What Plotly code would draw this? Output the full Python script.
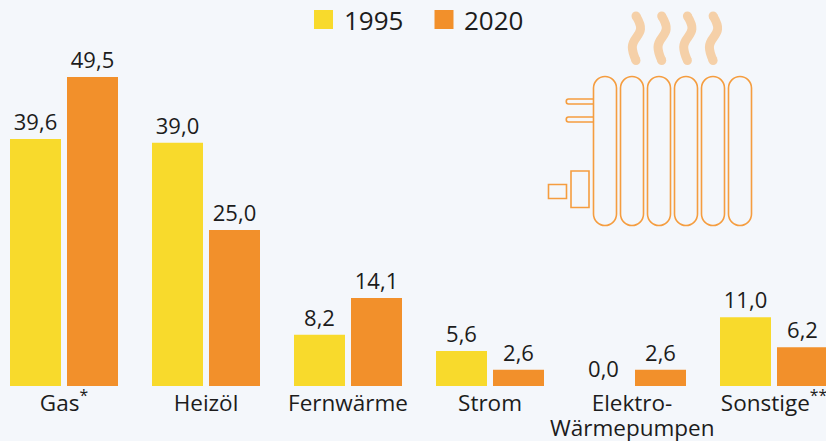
import plotly.graph_objects as go

categories = ["Gas<sup>*</sup>", "Heizöl", "Fernwärme", "Strom", "Elektro-", "Sonstige<sup>**</sup>"]
category_second_line = "Wärmepumpen"
series_names = ["1995", "2020"]
values_1995 = [39.6, 39.0, 8.2, 5.6, 0.0, 11.0]
values_2020 = [49.5, 25.0, 14.1, 2.6, 2.6, 6.2]

W, H = 826, 441
BASE = 386
YELLOW, ORANGE = "#f8da2c", "#f2902b"
BG = "#f4f7fb"
INK = "#1c1c1c"
FONT = "Open Sans"

def de(v):
    return f"{v:.1f}".replace(".", ",")

px = lambda x: x / W
py = lambda y: (BASE - y) / BASE

def path(cmds):
    out = []
    for c in cmds:
        if isinstance(c, str):
            out.append(c)
        else:
            out.append(f"{px(c[0]):.5f},{py(c[1]):.5f}")
    return " ".join(out)

positions = list(range(len(categories)))
fig = go.Figure()
for name, vals, col in [(series_names[0], values_1995, YELLOW), (series_names[1], values_2020, ORANGE)]:
    fig.add_trace(go.Bar(
        x=positions, y=vals, name=name, marker=dict(color=col, line=dict(width=0)),
        text=[de(v) for v in vals], textposition="outside", cliponaxis=False,
        textfont=dict(family=FONT, size=22, color=INK), showlegend=False,
        constraintext="none",
    ))

shapes = []
LINE = dict(color="#f59d3f", width=1.6)
# radiator columns
for i in range(6):
    x0 = 593.5 + i * 27
    x1 = x0 + 23
    r = 11.5
    y0, y1 = 76.5, 225.5
    k = 0.55 * r
    d = path(["M", (x0, y0 + r), "C", (x0, y0 + r - k), (x0 + r - k, y0), (x0 + r, y0),
              "C", (x1 - r + k, y0), (x1, y0 + r - k), (x1, y0 + r),
              "L", (x1, y1 - r), "C", (x1, y1 - r + k), (x1 - r + k, y1), (x1 - r, y1),
              "C", (x0 + r - k, y1), (x0, y1 - r + k), (x0, y1 - r), "Z"])
    shapes.append(dict(type="path", xref="paper", yref="paper", path=d, line=LINE, layer="above"))
# pipes
for ya, yb in [(99, 104), (117, 122)]:
    d = path(["M", (593.5, ya), "L", (568.5, ya), "C", (565.5, ya), (565.5, yb), (568.5, yb), "L", (593.5, yb)])
    shapes.append(dict(type="path", xref="paper", yref="paper", path=d, line=LINE, layer="above"))
# valve boxes
for x0, y0, x1, y1 in [(571, 171, 589, 207.5), (548.5, 184.5, 566.5, 198.5)]:
    shapes.append(dict(type="rect", xref="paper", yref="paper", x0=px(x0), x1=px(x1), y0=py(y1), y1=py(y0), line=LINE, layer="above"))
# heat waves
WAVE = "#f5d0a8"
for i in range(4):
    x = 636 + i * 25.7
    d = path(["M", (x, 16), "C", (x + 3, 21), (x + 5, 25), (x + 4.5, 29),
              "C", (x + 4, 36), (x - 3.7, 39), (x - 3.7, 47), "C", (x - 3.7, 52), (x - 2, 56), (x, 60.5)])
    shapes.append(dict(type="path", xref="paper", yref="paper", path=d,
                       line=dict(color=WAVE, width=9), layer="above"))
    for yc in (16, 60.5):
        shapes.append(dict(type="circle", xref="paper", yref="paper", x0=px(x - 4.5), x1=px(x + 4.5),
                           y0=py(yc + 4.5), y1=py(yc - 4.5), fillcolor=WAVE, line=dict(width=0), layer="above"))
# legend keys
for x0, col in [(314, YELLOW), (434.5, ORANGE)]:
    shapes.append(dict(type="rect", xref="paper", yref="paper", x0=px(x0), x1=px(x0 + 19), y0=py(29), y1=py(10),
                       fillcolor=col, line=dict(width=0), layer="above"))

annotations = [
    dict(text=series_names[0], x=px(342), y=py(20), xref="paper", yref="paper", xanchor="left", yanchor="middle",
         showarrow=False, font=dict(family=FONT, size=26, color=INK)),
    dict(text=series_names[1], x=px(462), y=py(20), xref="paper", yref="paper", xanchor="left", yanchor="middle",
         showarrow=False, font=dict(family=FONT, size=26, color=INK)),
    dict(text=category_second_line, x=positions[4], y=py(427), xref="x", yref="paper", xanchor="center", yanchor="middle",
         showarrow=False, font=dict(family=FONT, size=22.5, color=INK)),
]

fig.update_layout(
    width=W, height=H, margin=dict(l=0, r=0, t=0, b=H - BASE, autoexpand=False),
    paper_bgcolor=BG, plot_bgcolor=BG, barmode="group", bargap=28 / 142, bargroupgap=6 / 57,
    shapes=shapes, annotations=annotations, showlegend=False,
    font=dict(family=FONT, color=INK),
    xaxis=dict(range=[-64 / 142, (826 - 64) / 142], tickmode="array", tickvals=positions, ticktext=categories,
               showgrid=False, zeroline=False, showline=False, ticks="", ticklabelstandoff=1,
               ticklabeloverflow="allow",
               tickangle=0, tickfont=dict(family=FONT, size=22.5, color=INK), fixedrange=True),
    yaxis=dict(range=[0, BASE / 6.24], visible=False, fixedrange=True),
)
fig.write_html("out.html", post_script="document.body.style.margin='0';document.body.style.background='%s';" % BG,
               config=dict(displayModeBar=False))
